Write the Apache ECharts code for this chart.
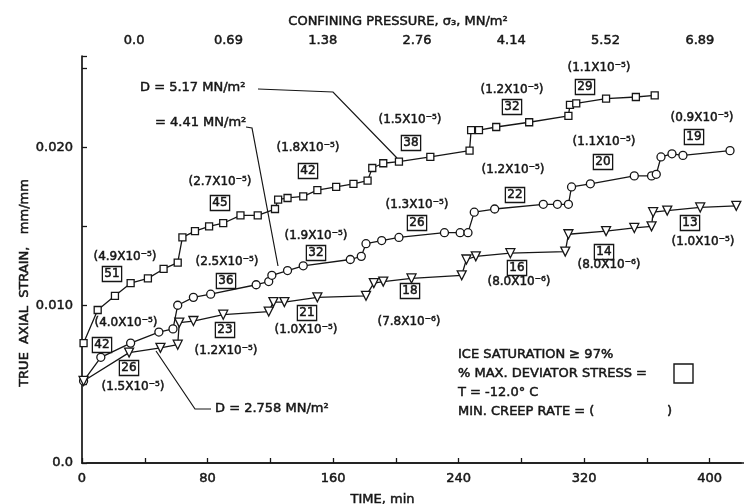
<!DOCTYPE html>
<html>
<head>
<meta charset="utf-8">
<script src="https://cdn.jsdelivr.net/npm/echarts@6/dist/echarts.min.js"></script>
<style>
html,body{margin:0;padding:0;background:#fff}
#chart{width:744px;height:504px}
</style>
</head>
<body>
<div id="chart"></div>
<script>
// top axis: confining pressure steps, MN/m^2 (one every 60 min)
const pressureLabels = ['0.0', '0.69', '1.38', '2.76', '4.14', '5.52', '6.89'];

// D = 5.17 MN/m^2 (squares)
const squareTime   = [1, 10, 21, 31, 42, 52, 61, 64, 72, 81, 90, 101, 112, 123, 125, 131, 141, 150, 162, 173, 182, 185, 192, 202, 222, 247, 248, 253, 264, 285, 310, 311, 315, 334, 353, 365];
const squareStrain = [0.0076, 0.0097, 0.0106, 0.0114, 0.0117, 0.0123, 0.0127, 0.0143, 0.0147, 0.0150, 0.0152, 0.0157, 0.0157, 0.0161, 0.0167, 0.0168, 0.0169, 0.0173, 0.0175, 0.0177, 0.0179, 0.0187, 0.0190, 0.0191, 0.0194, 0.0198, 0.0211, 0.0211, 0.0213, 0.0216, 0.0220, 0.0227, 0.0228, 0.0231, 0.0232, 0.0233];

// D = 4.41 MN/m^2 (circles)
const circleTime   = [1, 12, 31, 49, 58, 61, 71, 82, 111, 119, 121, 131, 141, 171, 178, 181, 191, 202, 231, 241, 246, 250, 263, 294, 303, 310, 312, 324, 352, 363, 366, 369, 376, 383, 413];
const circleStrain = [0.0052, 0.0067, 0.0076, 0.0083, 0.0085, 0.0100, 0.0105, 0.0107, 0.0113, 0.0115, 0.0119, 0.0122, 0.0125, 0.0129, 0.0131, 0.0139, 0.0141, 0.0143, 0.0146, 0.0146, 0.0146, 0.0159, 0.0161, 0.0164, 0.0164, 0.0164, 0.0175, 0.0177, 0.0182, 0.0182, 0.0183, 0.0194, 0.0196, 0.0195, 0.0198];

// D = 2.758 MN/m^2 (triangles)
const triTime   = [1, 30, 50, 61, 62, 71, 90, 119, 122, 129, 150, 181, 186, 192, 210, 242, 245, 251, 273, 308, 310, 334, 352, 363, 364, 373, 394, 417];
const triStrain = [0.0052, 0.0070, 0.0073, 0.0075, 0.0089, 0.0090, 0.0094, 0.0096, 0.0102, 0.0102, 0.0105, 0.0106, 0.0114, 0.0115, 0.0117, 0.0119, 0.0129, 0.0131, 0.0133, 0.0134, 0.0145, 0.0147, 0.0149, 0.0150, 0.0159, 0.0160, 0.0162, 0.0163];

const INK = '#161616';
const FONT = '"DejaVu Sans", sans-serif';
const THICK = 0.5;   // slight stroke so the lettering looks as heavy as the scan

function pairs(xs, ys) {
  return xs.map((x, i) => [x, ys[i]]);
}

function txt(x, y, text, size, align) {
  return {
    type: 'text', x: x, y: y, z: 50,
    style: {
      text: text, fill: INK, stroke: INK, lineWidth: THICK,
      font: (size || 12) + 'px ' + FONT,
      align: align || 'center', verticalAlign: 'middle',
      textAlign: align || 'center', textVerticalAlign: 'middle'
    }
  };
}

function box(x, y, text) {
  return {
    type: 'text', x: x, y: y, z: 50,
    style: {
      text: text, fill: INK, stroke: INK, lineWidth: THICK,
      font: '12px ' + FONT,
      align: 'center', verticalAlign: 'middle',
      textAlign: 'center', textVerticalAlign: 'middle',
      borderColor: INK, borderWidth: 1.3, padding: [2, 2, 1, 2]
    }
  };
}

function leader(points) {
  return {
    type: 'polyline', z: 40,
    shape: { points: points },
    style: { stroke: INK, lineWidth: 1.2, fill: null }
  };
}

// creep rate and % max deviator stress labels
const rates = [
  ['(4.9X10⁻⁵)', 125, 257], ['(2.7X10⁻⁵)', 220, 182], ['(1.8X10⁻⁵)', 308, 148],
  ['(1.5X10⁻⁵)', 410, 120], ['(1.2X10⁻⁵)', 512, 90], ['(1.1X10⁻⁵)', 599, 68],
  ['(4.0X10⁻⁵)', 126, 323], ['(2.5X10⁻⁵)', 227, 262], ['(1.9X10⁻⁵)', 316, 236],
  ['(1.3X10⁻⁵)', 417, 205], ['(1.2X10⁻⁵)', 513, 170], ['(1.1X10⁻⁵)', 604, 142],
  ['(0.9X10⁻⁵)', 702, 118],
  ['(1.5X10⁻⁵)', 133, 387], ['(1.2X10⁻⁵)', 226, 351], ['(1.0X10⁻⁵)', 306, 330],
  ['(7.8X10⁻⁶)', 409, 322], ['(8.0X10⁻⁶)', 519, 282], ['(8.0X10⁻⁶)', 609, 265],
  ['(1.0X10⁻⁵)', 703, 242]
];
const boxes = [
  ['51', 112, 274], ['45', 220, 203], ['42', 308, 171], ['38', 411, 143], ['32', 512, 107], ['29', 585, 87],
  ['42', 102, 345], ['36', 226, 281], ['32', 316, 253], ['26', 417, 223], ['22', 515, 195], ['20', 603, 162], ['19', 694, 137],
  ['26', 129, 368], ['23', 225, 330], ['21', 307, 313], ['18', 410, 291], ['16', 517, 268], ['14', 604, 252], ['13', 690, 223]
];

const graphics = [];
rates.forEach(r => graphics.push(txt(r[1], r[2], r[0], 12)));
boxes.forEach(b => graphics.push(box(b[1], b[2], b[0])));

graphics.push(txt(140, 88, 'D = 5.17 MN/m²', 13, 'left'));
graphics.push(leader([[258, 89], [333, 92], [397, 158]]));
graphics.push(txt(155, 123, '= 4.41 MN/m²', 13, 'left'));
graphics.push(leader([[246, 127], [252, 128], [278, 266]]));
graphics.push(txt(215, 409, 'D = 2.758 MN/m²', 13, 'left'));
graphics.push(leader([[211, 409], [195, 409], [156, 351]]));

graphics.push(txt(458, 355, 'ICE SATURATION ≥ 97%', 13, 'left'));
graphics.push(txt(458, 374, '% MAX. DEVIATOR STRESS =', 13, 'left'));
graphics.push({
  type: 'rect', z: 50,
  shape: { x: 674, y: 364, width: 19, height: 19 },
  style: { stroke: INK, lineWidth: 1.4, fill: null }
});
graphics.push(txt(458, 393, 'T = -12.0° C', 13, 'left'));
graphics.push(txt(458, 412, 'MIN. CREEP RATE = (', 13, 'left'));
graphics.push(txt(667, 412, ')', 13, 'left'));

graphics.push({
  type: 'text', x: 25, y: 283, rotation: Math.PI / 2, z: 50,
  style: {
    text: 'TRUE  AXIAL  STRAIN,   mm/mm', fill: INK, stroke: INK, lineWidth: THICK,
    font: '13px ' + FONT,
    align: 'center', verticalAlign: 'middle',
    textAlign: 'center', textVerticalAlign: 'middle'
  }
});

const axisFont = { color: INK, fontSize: 13, fontFamily: FONT, textBorderColor: INK, textBorderWidth: THICK };

const option = {
  backgroundColor: '#ffffff',
  animation: false,
  grid: [
    { left: 82, right: 3, top: 56, bottom: 41, containLabel: false, outerBoundsMode: 'none' },
    { left: 87, right: -3, top: 56, bottom: 41, containLabel: false, outerBoundsMode: 'none' }
  ],
  xAxis: [
    {
      gridIndex: 0,
      type: 'value',
      min: 0,
      max: 420,
      interval: 40,
      position: 'bottom',
      axisLine: { lineStyle: { color: INK, width: 1.7 } },
      axisTick: { inside: true, length: 5, lineStyle: { color: INK, width: 1.3 } },
      axisLabel: Object.assign({
        margin: 9,
        showMaxLabel: false,
        formatter: v => (v % 80 === 0 && v <= 400) ? String(v) : ''
      }, axisFont),
      splitLine: { show: false },
      name: 'TIME, min',
      nameLocation: 'middle',
      nameGap: 30,
      nameTextStyle: Object.assign({ padding: [0, 58, 0, 0] }, axisFont)
    },
    {
      gridIndex: 1,
      type: 'category',
      data: pressureLabels,
      position: 'top',
      boundaryGap: true,
      axisLine: { lineStyle: { color: INK, width: 1.7 } },
      axisTick: { length: 4, lineStyle: { color: INK, width: 1.3 } },
      axisLabel: Object.assign({ margin: 9 }, axisFont),
      name: 'CONFINING PRESSURE, σ₃, MN/m²',
      nameLocation: 'middle',
      nameGap: 26,
      nameTextStyle: Object.assign({ padding: [0, 38, 0, 0] }, axisFont)
    }
  ],
  yAxis: [
    {
      gridIndex: 0,
      type: 'value',
      min: 0,
      max: 0.0258,
      interval: 0.005,
      axisLine: { show: true, lineStyle: { color: INK, width: 1.7 } },
      axisTick: { show: true, inside: true, length: 5, lineStyle: { color: INK, width: 1.3 } },
      axisLabel: Object.assign({
        margin: 9,
        formatter: v => {
          if (Math.abs(v) < 1e-9) return '0.0';
          if (Math.abs(v - 0.01) < 1e-9) return '0.010';
          if (Math.abs(v - 0.02) < 1e-9) return '0.020';
          return '';
        }
      }, axisFont),
      splitLine: { show: false }
    },
    { gridIndex: 1, type: 'value', show: false }
  ],
  series: [
    {
      name: 'D = 5.17 MN/m²',
      type: 'line',
      data: pairs(squareTime, squareStrain),
      symbol: 'rect',
      symbolSize: 7,
      showAllSymbol: true,
      lineStyle: { color: INK, width: 1.3 },
      itemStyle: { color: '#fff', borderColor: INK, borderWidth: 1.3 }
    },
    {
      name: 'D = 4.41 MN/m²',
      type: 'line',
      data: pairs(circleTime, circleStrain),
      symbol: 'circle',
      symbolSize: 8,
      showAllSymbol: true,
      lineStyle: { color: INK, width: 1.3 },
      itemStyle: { color: '#fff', borderColor: INK, borderWidth: 1.3 }
    },
    {
      name: 'D = 2.758 MN/m²',
      type: 'line',
      data: pairs(triTime, triStrain),
      symbol: 'triangle',
      symbolRotate: 180,
      symbolSize: 9,
      showAllSymbol: true,
      lineStyle: { color: INK, width: 1.3 },
      itemStyle: { color: '#fff', borderColor: INK, borderWidth: 1.3 }
    }
  ],
  graphic: graphics
};

const myChart = echarts.init(document.getElementById('chart'));
myChart.setOption(option);
</script>
</body>
</html>
